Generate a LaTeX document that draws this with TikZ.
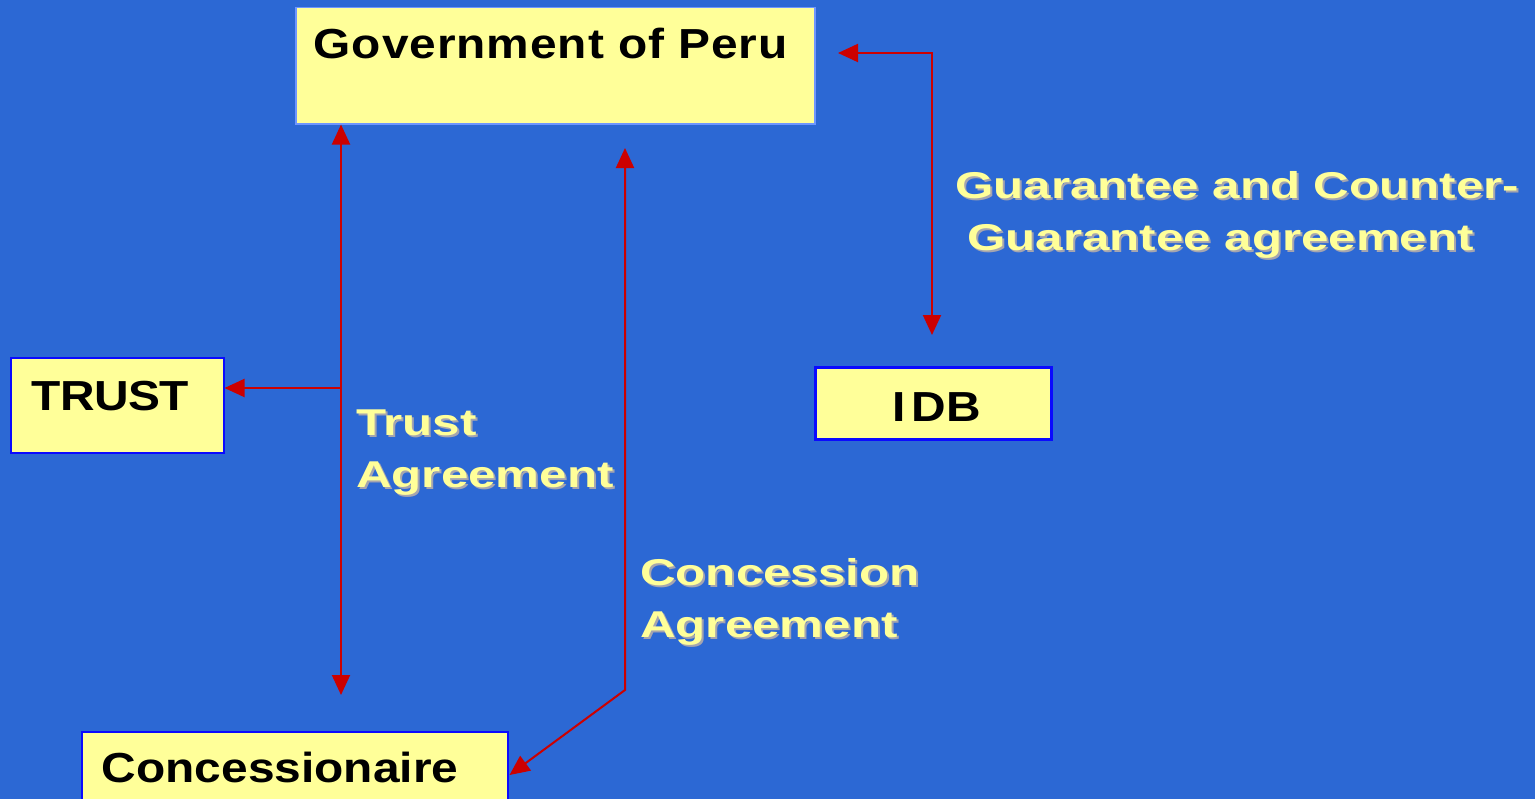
\documentclass[tikz,border=0pt]{standalone}
\usepackage{fontspec}
\usepackage{tikz}
\usetikzlibrary{calc,positioning,arrows.meta}
\newfontfamily\boxfont{Liberation Sans}[FakeStretch=1.14]
\newfontfamily\tagfont{Liberation Sans}[FakeStretch=1.32]
\newlength\px \setlength\px{0.75pt}
\definecolor{slide}{RGB}{44,104,212}
\definecolor{paper}{RGB}{255,255,153}
\definecolor{wire}{RGB}{204,0,0}
\definecolor{rim}{RGB}{10,10,255}
\definecolor{shade}{RGB}{165,165,175}
% yellow text with a grey drop shadow
\newcommand\shd[1]{\rlap{\kern2\px\raisebox{-2\px}{\color{shade}#1}}#1}
\tikzset {>={Triangle[length=15pt,width=13.5pt]},
  party/.style={draw=rim,line width=1.5\px,fill=paper,anchor=north west,inner ysep=0pt,
    align=left,font=\boxfont\bfseries\fontsize{31.5pt}{36pt}\selectfont},
  deal/.style={anchor=base west,inner sep=0pt,align=left,text=paper,
    font=\tagfont\bfseries\fontsize{28pt}{38.5pt}\selectfont},
  link/.style={draw=wire,line width=2\px}}

\begin{document}
\begin{tikzpicture}[x=0.75pt,y=-0.75pt]
\fill[slide] (0,0) rectangle (1535,799);
\useasboundingbox (0,0) rectangle (1535,799);
\clip (0,0) rectangle (1535,799);

% the four parties
\node[party,draw={rgb,255:red,110;green,150;blue,255},inner xsep=18\px,text width=483\px,
  text height=51\px,text depth=65\px] (gov) at (295,7)
  {\addfontfeature{LetterSpace=2.2}Government of Peru};
\node[party,inner xsep=21\px,text width=171\px,text height=53\px,text depth=42\px]
  (trust) at (10,357) {\addfontfeature{LetterSpace=-1.5}TRUST};
\node[party,line width=3\px,inner xsep=0pt,align=center,text width=236\px,
  text height=54\px,text depth=18\px] (idb) at (814,366)
  {\hspace*{6\px}I\hspace{6\px}DB};
\node[party,inner xsep=20\px,text width=386\px,text height=51\px,text depth=40\px]
  (conc) at (81,731) {Concessionaire};

% loose ends of the arrows
\coordinate (tb) at (341,695);
\coordinate (tj) at (341,388);
\coordinate (ct) at (625,148);
\coordinate (cb) at (625,690);
\coordinate (ce) at ($(conc.north east)+(1,44)$);
\coordinate (gt) at (838,53);
\coordinate (gb) at (932,335);

\draw[link,<->] (tb |- gov.south) -- (tb);
\draw[link,->] (tj) -- (tj -| trust.east);
\draw[link,<->] (ct) -- (cb) -- (ce);
\draw[link,<->] (gt) -| (gb);

% agreement labels (placed by the baseline of their last line)
\node[deal] (gcg) at (955,250) {\shd{Guarantee and Counter-}\\\hspace*{12\px}\shd{Guarantee agreement}};
\node[deal] (ta) at (356,487) {\shd{Trust}\\\shd{Agreement}};
\node[deal] (ca) at (640,637) {\shd{Concession}\\\shd{Agreement}};
\end{tikzpicture}
\end{document}
